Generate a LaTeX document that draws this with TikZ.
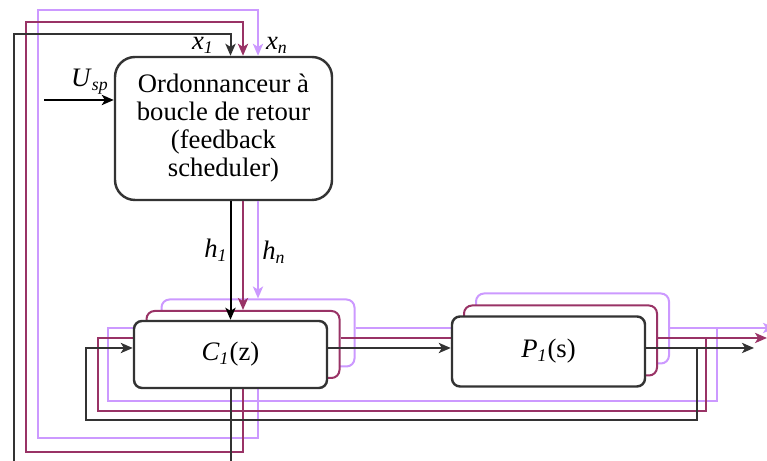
\documentclass[tikz,border=0pt]{standalone}
\usepackage{fontspec}
\setmainfont{Liberation Serif}
\usetikzlibrary{arrows.meta}

\definecolor{gris}{HTML}{333333}
\definecolor{grenat}{HTML}{993366}
\definecolor{lilas}{HTML}{CC99FF}
\newcommand{\vsub}[2]{\textit{#1}\textsubscript{\textit{#2}}}

\begin{document}
\begin{tikzpicture}
  [x=0.45pt,y=-0.45pt,
   every node/.style={font=\fontsize{12pt}{12.6pt}\selectfont},
   bloc/.style={draw=gris,line width=1.1pt,fill=white,rounded corners=3.6pt,
                minimum width=86.85pt,minimum height=30.15pt,inner sep=0pt},
   fleche/.style={-{Stealth[length=5.4pt,width=4.6pt,inset=1.4pt]}},
   lsombre/.style={draw=gris,line width=0.9pt},
   lgrenat/.style={draw=grenat,line width=0.9pt},
   llilas/.style={draw=lilas,line width=0.9pt},
   etiq/.style={inner sep=0pt}]
  \useasboundingbox (0,0) rectangle (767,461);

  % ordonnanceur
  \node[bloc,rounded corners=9pt,minimum width=97.65pt,minimum height=64.35pt,align=center]
    (S) at (223.5,128.5) {Ordonnanceur à\\boucle de retour\\(feedback\\scheduler)};

  % boucle n (lilas), dessinee en premier
  \node[bloc,draw=lilas,line width=0.9pt] (Cp) at (258,333) {};
  \node[bloc,draw=lilas,line width=0.9pt,minimum height=31.5pt] (Pp) at (572.5,328.5) {};
  \coordinate (pa) at (717,328);
  \coordinate (pc) at (108,401);
  \coordinate (pb) at (38,438);
  \coordinate (pt) at (258,10);
  \coordinate (pout) at (775,328);
  \draw[llilas,fleche] (pa) |- (pc) |- (Cp.west |- pa);
  \draw[llilas,fleche] (Cp.east |- pa) -- (Pp.west |- pa);
  \draw[llilas,fleche] (Pp.east |- pa) -- (pout);
  \draw[llilas,fleche] (Cp.south) |- (pb) |- (pt) -- (S.north -| pt);
  \draw[llilas,fleche] (S.south -| Cp.north) -- (Cp.north);

  % boucle intermediaire (grenat)
  \node[bloc,draw=grenat,line width=0.9pt] (Cm) at (243,344.5) {};
  \node[bloc,draw=grenat,line width=0.9pt,minimum height=31.5pt] (Pm) at (560.5,340.5) {};
  \coordinate (ma) at (706,338);
  \coordinate (mc) at (98,411);
  \coordinate (mb) at (26,452);
  \coordinate (mt) at (243,22);
  \coordinate (mout) at (767,338);
  \draw[lgrenat,fleche] (ma) |- (mc) |- (Cm.west |- ma);
  \draw[lgrenat,fleche] (Cm.east |- ma) -- (Pm.west |- ma);
  \draw[lgrenat,fleche] (Pm.east |- ma) -- (mout);
  \draw[lgrenat,fleche] (Cm.south) |- (mb) |- (mt) -- (S.north -| mt);
  \draw[lgrenat,fleche] (S.south -| Cm.north) -- (Cm.north);

  % boucle 1 (sombre)
  \node[bloc] (C) at (230.5,354.5) {\vsub{C}{1}(z)};
  \node[bloc,minimum height=31.5pt] (P) at (548.5,351.5) {\vsub{P}{1}(s)};
  \coordinate (da) at (697,348);
  \coordinate (dc) at (86,420);
  \coordinate (db) at (14,480);
  \coordinate (dt) at (230.5,34);
  \coordinate (dout) at (754,348);
  \coordinate (usp) at (44,100);
  \draw[lsombre,fleche] (da) |- (dc) |- (C.west |- da);
  \draw[lsombre,fleche] (C.east |- da) -- (P.west |- da);
  \draw[lsombre,fleche] (P.east |- da) -- (dout);
  \draw[lsombre,fleche] (C.south) |- (db) |- (dt) -- (S.north -| dt);
  \draw[black,line width=0.9pt,fleche] (S.south -| C.north) -- (C.north);
  \draw[black,line width=1.1pt,fleche] (usp) -- (S.west |- usp);

  % etiquettes
  \node[etiq] (lx1) at (203,45) {\vsub{x}{1}};
  \node[etiq] (lxn) at (277,45) {\vsub{x}{n}};
  \node[etiq] (lu) at (90,82) {\vsub{U}{sp}};
  \node[etiq] (lh1) at (216,250) {\vsub{h}{1}};
  \node[etiq] (lhn) at (274,252) {\vsub{h}{n}};
\end{tikzpicture}
\end{document}
